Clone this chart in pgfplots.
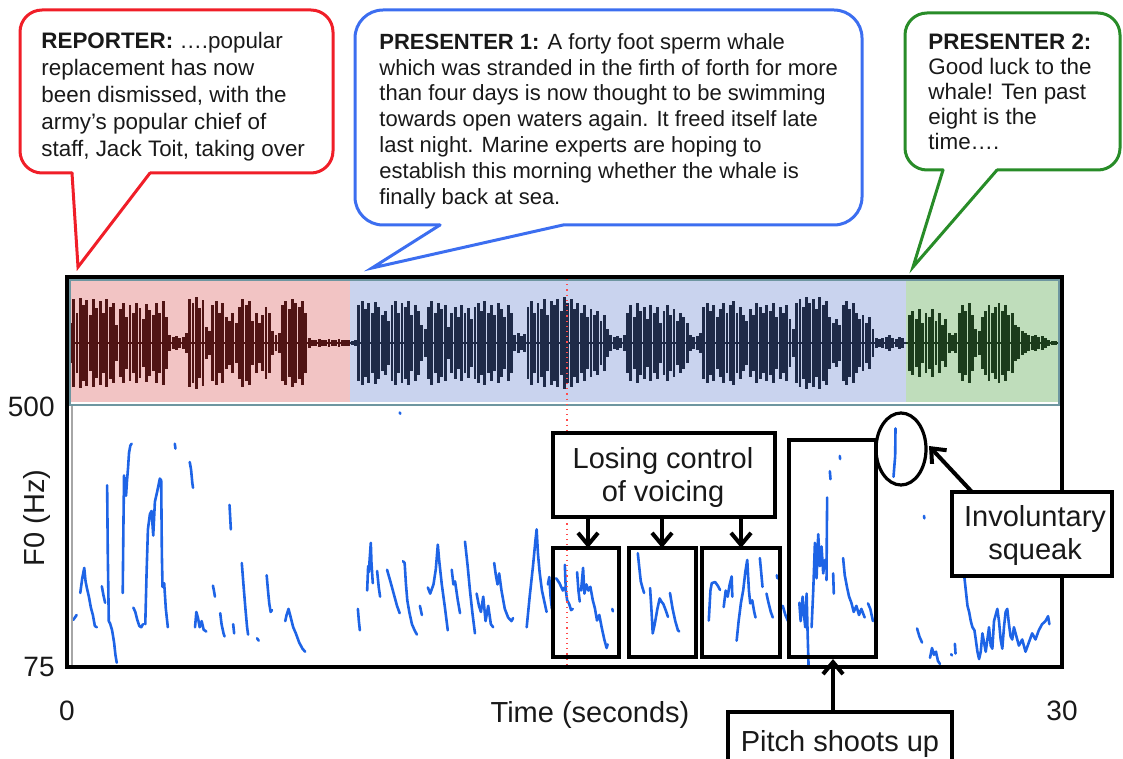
\documentclass[border=0pt]{standalone}
\usepackage{pgfplots}
\pgfplotsset{compat=1.18}
\usepackage{pgfplotstable}
\usepackage{fontspec}
\setmainfont{Liberation Sans}
\usetikzlibrary{arrows.meta}

\definecolor{bred}{RGB}{240,30,40}
\definecolor{bblue}{RGB}{60,110,240}
\definecolor{bgreen}{RGB}{40,140,40}
\definecolor{bgred}{RGB}{242,196,196}
\definecolor{bgblue}{RGB}{201,211,238}
\definecolor{bggreen}{RGB}{191,221,187}
\definecolor{wred}{RGB}{80,20,20}
\definecolor{wblue}{RGB}{30,42,72}
\definecolor{wgreen}{RGB}{28,60,28}
\definecolor{pitchc}{RGB}{30,100,230}
\definecolor{txt}{RGB}{25,25,25}
\definecolor{sepc}{RGB}{110,150,160}

% waveform envelope (half amplitude, in pixel-like units), one value per 0.1 s
\pgfplotstableread[row sep=\\]{
t a\\
0.1 20\\ 0.2 44\\ 0.3 30\\ 0.4 45\\ 0.5 38\\ 0.6 43\\ 0.7 28\\ 0.8 44\\ 0.9 35\\ 1.0 42\\
1.1 30\\ 1.2 44\\ 1.3 36\\ 1.4 40\\ 1.5 18\\ 1.6 34\\ 1.7 40\\ 1.8 26\\ 1.9 38\\ 2.0 30\\
2.1 40\\ 2.2 35\\ 2.3 24\\ 2.4 39\\ 2.5 33\\ 2.6 28\\ 2.7 40\\ 2.8 30\\ 2.9 42\\ 3.0 26\\
3.1 8\\ 3.2 6\\ 3.3 7\\ 3.4 5\\ 3.5 6\\ 3.6 10\\ 3.7 44\\ 3.8 40\\ 3.9 46\\ 4.0 35\\
4.1 43\\ 4.2 16\\ 4.3 12\\ 4.4 38\\ 4.5 42\\ 4.6 30\\ 4.7 40\\ 4.8 26\\ 4.9 22\\ 5.0 30\\
5.1 20\\ 5.2 36\\ 5.3 44\\ 5.4 38\\ 5.5 42\\ 5.6 22\\ 5.7 30\\ 5.8 20\\ 5.9 28\\ 6.0 36\\
6.1 30\\ 6.2 12\\ 6.3 8\\ 6.4 10\\ 6.5 38\\ 6.6 42\\ 6.7 34\\ 6.8 44\\ 6.9 40\\ 7.0 36\\
7.1 42\\ 7.2 30\\ 7.3 5\\ 7.4 3\\ 7.5 3\\ 7.6 4\\ 7.7 3\\ 7.8 3\\ 7.9 4\\ 8.0 3\\
8.1 3\\ 8.2 4\\ 8.3 3\\ 8.4 3\\ 8.5 3\\
8.6 2\\ 8.7 3\\ 8.8 38\\ 8.9 42\\ 9.0 34\\ 9.1 40\\ 9.2 30\\ 9.3 41\\ 9.4 36\\ 9.5 28\\
9.6 32\\ 9.7 22\\ 9.8 38\\ 9.9 42\\ 10.0 30\\ 10.1 40\\ 10.2 36\\ 10.3 42\\ 10.4 28\\ 10.5 38\\
10.6 32\\ 10.7 18\\ 10.8 14\\ 10.9 36\\ 11.0 42\\ 11.1 30\\ 11.2 40\\ 11.3 34\\ 11.4 38\\ 11.5 16\\
11.6 30\\ 11.7 36\\ 11.8 26\\ 11.9 38\\ 12.0 30\\ 12.1 35\\ 12.2 24\\ 12.3 36\\ 12.4 40\\ 12.5 32\\
12.6 42\\ 12.7 30\\ 12.8 38\\ 12.9 28\\ 13.0 40\\ 13.1 34\\ 13.2 26\\ 13.3 38\\ 13.4 30\\ 13.5 8\\
13.6 10\\ 13.7 7\\ 13.8 9\\ 13.9 36\\ 14.0 42\\ 14.1 30\\ 14.2 40\\ 14.3 34\\ 14.4 44\\ 14.5 28\\
14.6 42\\ 14.7 38\\ 14.8 44\\ 14.9 32\\ 15.0 46\\ 15.1 40\\ 15.2 44\\ 15.3 34\\ 15.4 40\\ 15.5 30\\
15.6 38\\ 15.7 26\\ 15.8 34\\ 15.9 28\\ 16.0 32\\ 16.1 22\\ 16.2 28\\ 16.3 14\\ 16.4 8\\ 16.5 6\\
16.6 7\\ 16.7 5\\ 16.8 8\\ 16.9 30\\ 17.0 38\\ 17.1 26\\ 17.2 40\\ 17.3 32\\ 17.4 36\\ 17.5 24\\
17.6 38\\ 17.7 30\\ 17.8 36\\ 17.9 20\\ 18.0 32\\ 18.1 38\\ 18.2 28\\ 18.3 34\\ 18.4 22\\ 18.5 30\\
18.6 26\\ 18.7 20\\ 18.8 8\\ 18.9 6\\ 19.0 7\\ 19.1 10\\ 19.2 36\\ 19.3 40\\ 19.4 32\\ 19.5 38\\
19.6 26\\ 19.7 34\\ 19.8 40\\ 19.9 30\\ 20.0 38\\ 20.1 42\\ 20.2 30\\ 20.3 36\\ 20.4 28\\ 20.5 22\\
20.6 34\\ 20.7 28\\ 20.8 40\\ 20.9 36\\ 21.0 30\\ 21.1 38\\ 21.2 32\\ 21.3 40\\ 21.4 26\\ 21.5 36\\
21.6 30\\ 21.7 38\\ 21.8 24\\ 21.9 14\\ 22.0 40\\ 22.1 44\\ 22.2 36\\ 22.3 46\\ 22.4 40\\ 22.5 44\\
22.6 34\\ 22.7 46\\ 22.8 38\\ 22.9 42\\ 23.0 26\\ 23.1 20\\ 23.2 24\\ 23.3 18\\ 23.4 38\\ 23.5 42\\
23.6 34\\ 23.7 40\\ 23.8 30\\ 23.9 24\\ 24.0 28\\ 24.1 20\\ 24.2 26\\ 24.3 14\\ 24.4 5\\ 24.5 4\\
24.6 5\\ 24.7 6\\ 24.8 8\\ 24.9 5\\ 25.0 4\\ 25.1 6\\ 25.2 5\\
25.4 28\\ 25.5 32\\ 25.6 24\\ 25.7 34\\ 25.8 20\\ 25.9 30\\ 26.0 26\\ 26.1 34\\ 26.2 22\\ 26.3 30\\
26.4 18\\ 26.5 24\\ 26.6 10\\ 26.7 8\\ 26.8 10\\ 26.9 30\\ 27.0 38\\ 27.1 32\\ 27.2 40\\ 27.3 28\\
27.4 14\\ 27.5 12\\ 27.6 26\\ 27.7 32\\ 27.8 38\\ 27.9 30\\ 28.0 36\\ 28.1 40\\ 28.2 32\\ 28.3 38\\
28.4 28\\ 28.5 30\\ 28.6 18\\ 28.7 16\\ 28.8 12\\ 28.9 10\\ 29.0 8\\ 29.1 7\\ 29.2 8\\ 29.3 6\\
29.4 7\\ 29.5 5\\ 29.6 3\\ 29.7 2\\ 29.8 2\\ 29.9 1\\
}\wave

% F0 track (s, Hz); nan rows separate voiced stretches
\pgfplotstableread[row sep=\\]{
t f\\
0.19 152\\ 0.29 160\\ nan nan\\
0.40 196\\ 0.46 220\\ 0.52 237\\ 0.56 215\\ 0.60 204\\ 0.66 190\\ 0.72 172\\ 0.78 160\\ 0.84 142\\ 0.90 140\\ nan nan\\
1.05 207\\ 1.10 192\\ 1.15 180\\ nan nan\\
1.21 372\\ 1.23 260\\ 1.26 150\\ 1.30 146\\ 1.36 135\\ 1.42 115\\ 1.46 95\\ 1.50 82\\ nan nan\\
1.68 196\\ 1.70 300\\ 1.72 388\\ 1.75 370\\ 1.78 355\\ 1.81 380\\ 1.84 400\\ 1.87 425\\ 1.91 437\\ 1.95 440\\ nan nan\\
2.00 172\\ 2.06 165\\ 2.12 152\\ 2.18 142\\ 2.24 140\\ 2.29 145\\ nan nan\\
2.36 145\\ 2.40 230\\ 2.44 300\\ 2.50 325\\ 2.55 330\\ 2.60 290\\ 2.65 345\\ 2.72 362\\ 2.80 383\\ 2.84 380\\ 2.86 260\\ 2.88 206\\ 2.93 212\\ 2.98 170\\ 3.04 140\\ nan nan\\
3.25 440\\ 3.27 432\\ nan nan\\
3.70 410\\ 3.74 398\\ 3.78 375\\ 3.80 368\\ nan nan\\
3.86 140\\ 3.90 165\\ 3.95 155\\ 4.00 140\\ 4.06 150\\ 4.12 136\\ 4.20 133\\ nan nan\\
4.40 208\\ 4.43 200\\ 4.46 190\\ nan nan\\
4.62 163\\ 4.66 145\\ 4.72 130\\ 4.75 125\\ nan nan\\
4.90 340\\ 4.92 320\\ 4.94 300\\ nan nan\\
5.01 145\\ 5.04 130\\ nan nan\\
5.27 245\\ 5.32 210\\ 5.38 170\\ 5.43 140\\ 5.46 128\\ nan nan\\
5.73 122\\ 5.78 118\\ nan nan\\
6.02 225\\ 6.06 200\\ 6.10 178\\ 6.14 165\\ 6.18 168\\ nan nan\\
6.58 150\\ 6.62 160\\ 6.68 170\\ 6.75 155\\ 6.82 140\\ 6.90 130\\ 7.00 115\\ 7.10 105\\ 7.18 100\\ nan nan\\
8.77 170\\ 8.80 150\\ 8.83 135\\ nan nan\\
9.05 200\\ 9.08 240\\ 9.10 230\\ 9.13 255\\ 9.16 278\\ 9.18 245\\ 9.22 212\\ nan nan\\
9.35 232\\ 9.40 205\\ 9.44 190\\ nan nan\\
9.65 234\\ 9.75 215\\ 9.85 195\\ 9.95 175\\ 10.03 163\\ nan nan\\
10.03 491\\ 10.05 489\\ nan nan\\
10.13 248\\ 10.18 245\\ 10.22 210\\ 10.26 184\\ 10.32 165\\ 10.40 145\\ 10.48 135\\ 10.55 128\\ nan nan\\
10.64 175\\ 10.70 160\\ nan nan\\
10.88 205\\ 10.95 195\\ 11.05 210\\ 11.12 235\\ 11.18 275\\ 11.22 250\\ 11.30 210\\ 11.40 170\\ 11.48 135\\ nan nan\\
11.60 234\\ 11.65 210\\ 11.70 215\\ 11.78 185\\ 11.85 163\\ nan nan\\
12.00 280\\ 12.08 240\\ 12.15 200\\ 12.22 165\\ 12.30 130\\ nan nan\\
12.35 195\\ 12.42 175\\ 12.48 165\\ 12.55 190\\ 12.62 150\\ 12.70 175\\ 12.78 145\\ 12.85 140\\ nan nan\\
12.88 245\\ 12.93 225\\ 12.98 210\\ 13.03 228\\ 13.10 200\\ 13.20 170\\ 13.30 156\\ 13.40 150\\ 13.45 155\\ nan nan\\
13.86 140\\ 13.95 190\\ 14.05 240\\ 14.12 280\\ 14.16 300\\ 14.20 260\\ 14.25 230\\ 14.32 200\\ 14.40 180\\ 14.46 165\\ nan nan\\
14.50 210\\ 14.54 222\\ 14.58 190\\ 14.62 170\\ nan nan\\
14.75 220\\ 14.85 212\\ 14.95 200\\ 15.00 205\\ nan nan\\
15.01 242\\ 15.04 200\\ 15.08 184\\ 15.14 178\\ 15.20 168\\ 15.25 170\\ nan nan\\
15.38 230\\ 15.42 200\\ 15.46 182\\ nan nan\\
15.50 200\\ 15.56 237\\ 15.60 195\\ 15.66 210\\ 15.72 200\\ 15.78 206\\ 15.85 185\\ 15.92 170\\ 15.98 151\\ 16.05 160\\ 16.12 140\\ 16.20 120\\ 16.27 106\\ 16.30 112\\ nan nan\\
16.44 170\\ 16.46 166\\ nan nan\\
17.21 261\\ 17.25 240\\ 17.30 215\\ 17.35 205\\ 17.40 196\\ nan nan\\
17.58 204\\ 17.62 170\\ 17.66 130\\ 17.72 145\\ 17.80 170\\ 17.87 187\\ 17.92 182\\ 17.98 178\\ 18.05 168\\ 18.12 157\\ nan nan\\
18.18 196\\ 18.26 170\\ 18.34 150\\ 18.42 135\\ 18.46 133\\ nan nan\\
19.35 151\\ 19.40 200\\ 19.44 212\\ 19.54 214\\ 19.62 208\\ 19.69 201\\ nan nan\\
19.80 173\\ 19.86 200\\ 19.92 190\\ 19.98 210\\ 20.04 223\\ 20.06 190\\ nan nan\\
20.19 118\\ 20.25 150\\ 20.32 180\\ 20.39 201\\ 20.45 230\\ 20.51 250\\ 20.56 200\\ 20.60 179\\ 20.66 184\\ 20.72 165\\ 20.76 156\\ nan nan\\
20.89 253\\ 20.93 230\\ 20.97 206\\ nan nan\\
21.09 195\\ 21.15 180\\ 21.22 165\\ 21.28 156\\ nan nan\\
21.40 225\\ 21.42 220\\ nan nan\\
21.58 175\\ 21.66 160\\ 21.74 150\\ nan nan\\
22.08 180\\ 22.12 150\\ 22.15 173\\ 22.18 190\\ 22.22 160\\ 22.26 140\\ 22.30 195\\ 22.33 130\\ 22.36 75\\ nan nan\\
22.45 140\\ 22.50 200\\ 22.55 278\\ 22.60 220\\ 22.65 292\\ 22.70 240\\ 22.75 272\\ 22.80 228\\ 22.85 250\\ nan nan\\
22.90 217\\ 22.91 300\\ 22.92 352\\ nan nan\\
23.00 395\\ 23.02 382\\ nan nan\\
23.10 228\\ 23.12 195\\ nan nan\\
23.30 420\\ 23.31 415\\ nan nan\\
23.40 253\\ 23.45 225\\ 23.52 205\\ 23.58 190\\ 23.65 180\\ 23.72 165\\ 23.80 175\\ 23.88 160\\ 23.95 170\\ 24.05 156\\ nan nan\\
24.15 179\\ 24.22 170\\ 24.30 150\\ nan nan\\
24.98 465\\ 24.97 420\\ 24.94 400\\ 24.92 386\\ nan nan\\
25.63 138\\ 25.70 125\\ 25.78 115\\ nan nan\\
25.84 322\\ 25.85 318\\ nan nan\\
26.02 90\\ 26.08 106\\ 26.14 95\\ 26.20 100\\ 26.26 85\\ 26.32 80\\ nan nan\\
26.66 96\\ 26.68 94\\ nan nan\\
26.77 113\\ 26.79 97\\ nan nan\\
27.05 225\\ 27.10 200\\ 27.15 175\\ 27.20 165\\ 27.25 150\\ 27.30 140\\ 27.36 135\\ 27.40 120\\ 27.45 100\\ 27.50 88\\
27.55 100\\ 27.60 130\\ 27.65 115\\ 27.70 100\\ 27.75 120\\ 27.80 140\\ 27.85 110\\ 27.90 105\\ 27.95 150\\ 28.00 160\\
28.05 170\\ 28.10 150\\ 28.15 120\\ 28.20 105\\ 28.25 140\\ 28.30 165\\ 28.35 170\\ 28.40 145\\ 28.45 125\\ 28.50 120\\
28.55 140\\ 28.60 130\\ 28.70 110\\ 28.80 120\\ 28.90 100\\ 29.00 115\\ 29.10 130\\ 29.20 120\\ 29.30 135\\ 29.40 145\\
29.50 150\\ 29.58 158\\ 29.62 145\\
}\pitchdata

\begin{document}
\begin{tikzpicture}
\path[use as bounding box] (0,0) rectangle (561.5pt,-379.5pt);

% ---------- waveform panel ----------
\begin{axis}[at={(33.5pt,-202.5pt)}, anchor=south west, scale only axis,
  width=497.5pt, height=64pt, xmin=0, xmax=30, ymin=-62, ymax=66, hide axis]
\addplot[fill=bgred, draw=none] coordinates {(0,-59)(8.53,-59)(8.53,63)(0,63)} -- cycle;
\addplot[fill=bgblue, draw=none] coordinates {(8.53,-59)(25.3,-59)(25.3,63)(8.53,63)} -- cycle;
\addplot[fill=bggreen, draw=none] coordinates {(25.3,-59)(30,-59)(30,63)(25.3,63)} -- cycle;
\addplot[wred, line width=1.3pt] coordinates {(0.1,0)(8.53,0)};
\addplot[wblue, line width=1.3pt] coordinates {(8.53,0)(25.3,0)};
\addplot[wgreen, line width=1.3pt] coordinates {(25.3,0)(29.95,0)};
\addplot[draw=none, mark=none, restrict x to domain=0:8.55,
  error bars/.cd, y dir=both, y explicit, error mark=none,
  error bar style={draw=wred, line width=1.45pt}]
  table[x=t, y expr=0, y error=a] {\wave};
\addplot[draw=none, mark=none, restrict x to domain=8.55:25.3,
  error bars/.cd, y dir=both, y explicit, error mark=none,
  error bar style={draw=wblue, line width=1.45pt}]
  table[x=t, y expr=0, y error=a] {\wave};
\addplot[draw=none, mark=none, restrict x to domain=25.3:30,
  error bars/.cd, y dir=both, y explicit, error mark=none,
  error bar style={draw=wgreen, line width=1.45pt}]
  table[x=t, y expr=0, y error=a] {\wave};
\end{axis}

% ---------- F0 panel ----------
\begin{axis}[at={(33.5pt,-333.5pt)}, anchor=south west, scale only axis,
  width=497.5pt, height=130pt, xmin=0, xmax=30, ymin=75, ymax=500,
  axis line style={draw=none}, major tick length=0pt,
  xtick={0,30}, xticklabels={0,30}, ytick={75,500}, yticklabels={75,500},
  ticklabel style={font=\fontsize{14}{16}\selectfont, inner sep=0pt, text=txt},
  xticklabel style={anchor=center, yshift=-22pt},
  yticklabel style={anchor=east, xshift=-6pt},
  xlabel={Time (seconds)}, ylabel={F0 (Hz)},
  label style={font=\fontsize{14.5}{17}\selectfont, text=txt},
  xlabel style={at={(axis description cs:0.5256,0)}, anchor=center, yshift=-24pt},
  ylabel style={at={(axis description cs:-0.0302,0.573)}, anchor=center},
  unbounded coords=jump]
\addplot[pitchc, line width=1.3pt, line join=round, line cap=round, mark=none]
  table[x=t, y=f] {\pitchdata};
\end{axis}

% ---------- frame and annotations (pixel coordinates) ----------
\begin{scope}[x=0.5pt, y=-0.5pt]
\draw[sepc, line width=0.9pt] (70,280) rectangle (1059,405);
\draw[gray!70, line width=0.6pt] (72,406) -- (72,665);
\draw[red!70, dotted, line width=0.6pt] (567,279) -- (567,666);
\draw[black, line width=2.2pt] (67,277) rectangle (1062,667);

% Losing control of voicing
\draw[line width=2pt, fill=white] (553,433) rectangle (775,517);
\node[font=\fontsize{14.5}{16.5}\selectfont, align=center, text=txt] at (663,477) {Losing control\\of voicing};
\foreach \xx in {588,662,741}
  \draw[line width=2pt, -{Straight Barb[length=6pt,width=10pt]}] (\xx,517) -- (\xx,548);
\draw[line width=2pt] (553,548) rectangle (619,657);
\draw[line width=2pt] (629,548) rectangle (696,657);
\draw[line width=2pt] (702,548) rectangle (780,657);
\draw[line width=2pt] (789,440) rectangle (876,657);

% squeak
\draw[line width=1.6pt] (901,449) ellipse [x radius=12.5pt, y radius=18pt];
\draw[line width=2pt, -{Straight Barb[length=6pt,width=10pt]}] (972,492) -- (929,446);
\draw[line width=2pt, fill=white] (952,492) rectangle (1112,576);
\node[font=\fontsize{14.5}{16.5}\selectfont, align=center, text=txt] at (1035,535) {Involuntary\\squeak};

% pitch shoots up
\draw[line width=2pt, -{Straight Barb[length=6pt,width=10pt]}] (833,712) -- (833,659);
\draw[line width=2pt, fill=white] (728,712) rectangle (952,780);
\node[font=\fontsize{14.5}{16.5}\selectfont, anchor=base, text=txt] at (840,751) {Pitch shoots up};

% speech bubbles
\draw[bred, line width=1.5pt, line cap=round, rounded corners=11pt] (72,173) -- (20,173) -- (20,10) -- (333,10) -- (333,173) -- (150,173);
\draw[bred, line width=1.5pt, line cap=round, line join=miter] (72,173) -- (78,267) -- (150,173);
\node[anchor=north west, inner sep=0pt, align=left, text=txt, font=\fontsize{11.2}{13.5}\selectfont] at (41,32)
  {\textbf{REPORTER:} ….popular\\replacement has now\\been dismissed, with the\\army’s popular chief of\\staff, Jack Toit, taking over};

\draw[bblue, line width=1.5pt, line cap=round, rounded corners=14pt] (440,225) -- (355,225) -- (355,10) -- (862,10) -- (862,225) -- (563,225);
\draw[bblue, line width=1.5pt, line cap=round, line join=miter] (440,225) -- (372,268) -- (563,225);
\node[anchor=north west, inner sep=0pt, align=left, text=txt, font=\fontsize{11}{12.9}\selectfont] at (379,33)
  {\textbf{PRESENTER 1:} A forty foot sperm whale\\which was stranded in the firth of forth for more\\than four days is now thought to be swimming\\towards open waters again. It freed itself late\\last night. Marine experts are hoping to\\establish this morning whether the whale is\\finally back at sea.};

\draw[bgreen, line width=1.5pt, line cap=round, rounded corners=11pt] (943,170) -- (905,170) -- (905,13) -- (1120,13) -- (1120,170) -- (997,170);
\draw[bgreen, line width=1.5pt, line cap=round, line join=miter] (943,170) -- (913,267) -- (997,170);
\node[anchor=north west, inner sep=0pt, align=left, text=txt, font=\fontsize{11.2}{12.5}\selectfont] at (928,33)
  {\textbf{PRESENTER 2:}\\Good luck to the\\whale! Ten past\\eight is the\\time….};
\end{scope}
\end{tikzpicture}
\end{document}
